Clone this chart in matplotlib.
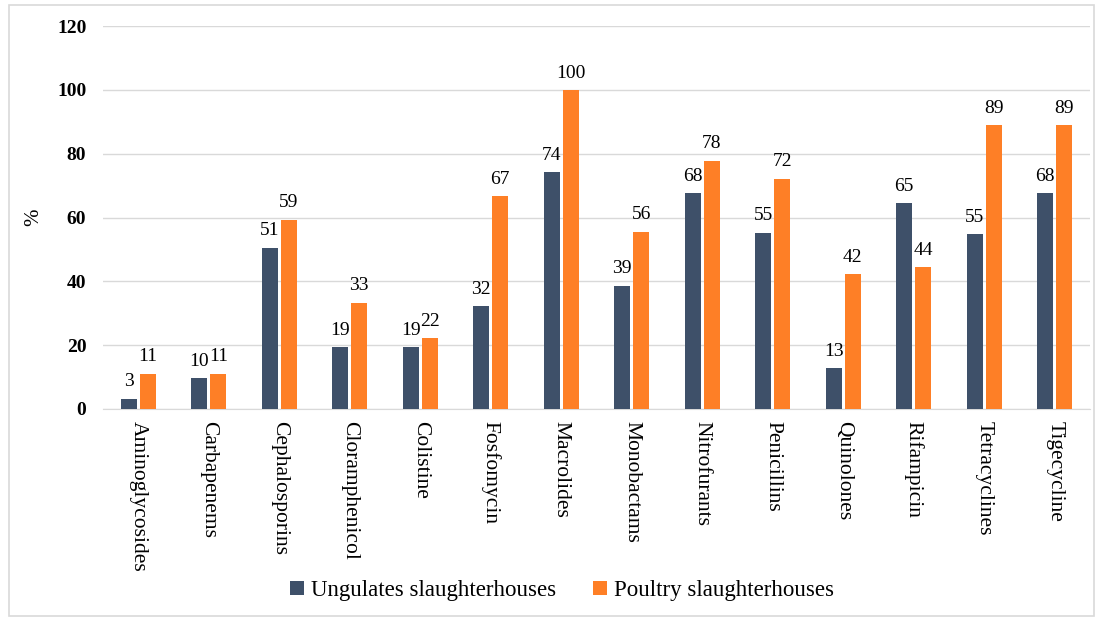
import numpy as np
import matplotlib.pyplot as plt
from matplotlib.patches import Rectangle

# data
categories = ['Aminoglycosides', 'Carbapenems', 'Cephalosporins', 'Cloramphenicol',
              'Colistine', 'Fosfomycin', 'Macrolides', 'Monobactams', 'Nitrofurants',
              'Penicillins', 'Quinolones', 'Rifampicin', 'Tetracyclines', 'Tigecycline']
ungulates = [3.2, 9.7, 50.6, 19.4, 19.4, 32.3, 74.2, 38.7, 67.7, 55.3, 12.9, 64.6, 54.8, 67.7]
poultry = [11.1, 11.1, 59.3, 33.3, 22.2, 66.7, 100.0, 55.6, 77.8, 72.2, 42.2, 44.4, 88.9, 88.9]
yticks = [0, 20, 40, 60, 80, 100, 120]

plt.rcParams['font.family'] = ['Liberation Serif', 'DejaVu Serif']

fig = plt.figure(figsize=(11.02, 6.23), dpi=100)
ax = fig.add_axes([0.0935, 0.3435, 0.8955, 0.6145])

# light frame around the whole chart
fig.patches.append(Rectangle((0.008, 0.012), 0.985, 0.98, transform=fig.transFigure,
                             fill=False, edgecolor='#D9D9D9', linewidth=1.2))

x = np.arange(len(categories))
w = 0.23
blue = '#3E5069'
orange = '#FE7F26'
b1 = ax.bar(x - 0.135, ungulates, w, color=blue, label='Ungulates slaughterhouses', zorder=3)
b2 = ax.bar(x + 0.135, poultry, w, color=orange, label='Poultry slaughterhouses', zorder=3)

ax.bar_label(b1, labels=[f'{v:.0f}' for v in ungulates], padding=6, fontsize=14)
ax.bar_label(b2, labels=[f'{v:.0f}' for v in poultry], padding=6, fontsize=14)

ax.set_xlim(-0.5, len(categories) - 0.5)
ax.set_ylim(0, 120)
ax.set_yticks(yticks)
ax.set_yticklabels([str(t) for t in yticks], fontsize=14, fontweight='bold')
ax.set_xticks(x)
ax.set_xticklabels(categories, rotation=-90, fontsize=15.5, va='top')
ax.tick_params(axis='both', length=0)
ax.tick_params(axis='y', pad=12)
ax.tick_params(axis='x', pad=9)

ax.grid(axis='y', color='#D9D9D9', linewidth=1, zorder=0)
for s in ['top', 'right', 'left']:
    ax.spines[s].set_visible(False)
ax.spines['bottom'].set_color('#D9D9D9')

ax.set_ylabel('%', fontsize=15, labelpad=10)

fig.legend(loc='center', bbox_to_anchor=(0.51, 0.052), ncol=2, frameon=False,
           fontsize=16.5, handlelength=0.6, handleheight=0.6, handletextpad=0.3,
           columnspacing=1.6)

fig.savefig('out.png', dpi=100)
